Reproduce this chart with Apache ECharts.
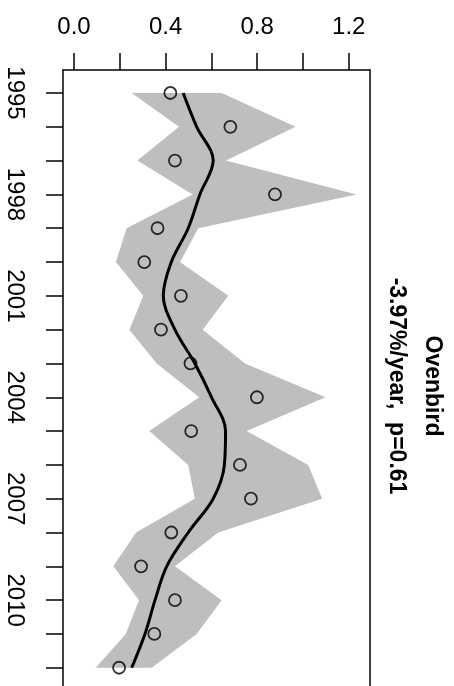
<!DOCTYPE html>
<html>
<head>
<meta charset="utf-8">
<script src="https://cdn.jsdelivr.net/npm/echarts@6/dist/echarts.min.js"></script>
<style>html,body{margin:0;padding:0;background:#fff;}#c{width:454px;height:686px;}</style>
</head>
<body>
<div id="c"></div>
<script>
var years = [1995,1996,1997,1998,1999,2000,2001,2002,2003,2004,2005,2006,2007,2008,2009,2010,2011,2012];
var observed = [0.421,0.683,0.441,0.878,0.365,0.307,0.467,0.380,0.509,0.799,0.512,0.725,0.773,0.425,0.293,0.441,0.351,0.197];
var lower = [0.252,0.459,0.277,0.518,0.230,0.183,0.303,0.242,0.361,0.547,0.329,0.499,0.528,0.271,0.172,0.284,0.226,0.095];
var upper = [0.645,0.968,0.664,1.234,0.543,0.463,0.674,0.562,0.747,1.099,0.754,1.023,1.084,0.630,0.441,0.645,0.536,0.339];
var trend = [0.477,0.536,0.608,0.550,0.499,0.425,0.390,0.441,0.528,0.601,0.662,0.657,0.608,0.499,0.405,0.354,0.310,0.252];
var valueTicks = [0,0.2,0.4,0.6,0.8,1.0,1.2];
var valueLabels = [0,0.4,0.8,1.2];
var yearLabels = [1995,1998,2001,2004,2007,2010];
var titleLine1 = 'Ovenbird';
var titleLine2 = '-3.97%/year,  p=0.61';

var chart = echarts.init(document.getElementById('c'));
var font = 'Liberation Sans, Arial, sans-serif';

var bandData = years.map(function(y,i){ return [lower[i], upper[i], y]; });
var frameLine = {show: true, onZero: false, lineStyle: {color: '#000', width: 1.5}};

chart.setOption({
  animation: false,
  backgroundColor: '#fff',
  grid: {left: 63, top: 70, right: 84, bottom: 0, show: false},
  xAxis: {
    type: 'value', position: 'top', min: -0.048, max: 1.293,
    splitLine: {show: false},
    axisLine: frameLine,
    axisTick: {show: true, inside: false, length: 17, customValues: valueTicks, lineStyle: {color: '#000', width: 1.5}},
    axisLabel: {show: true, customValues: valueLabels, margin: 31, fontSize: 24, color: '#000', fontFamily: font,
      formatter: function(v){ return Number(v).toFixed(1); }}
  },
  yAxis: [
    {
      type: 'value', inverse: true, min: 1994.32, max: 2012.54, position: 'left',
      splitLine: {show: false},
      axisLine: frameLine,
      axisTick: {show: true, inside: false, length: 17, customValues: years, lineStyle: {color: '#000', width: 1.5}},
      axisLabel: {show: true, customValues: yearLabels, rotate: -90, margin: 36, fontSize: 24, color: '#000', fontFamily: font,
        formatter: function(v){ return String(v); }}
    },
    {
      type: 'value', inverse: true, min: 1994.32, max: 2012.54, position: 'right',
      splitLine: {show: false},
      axisLine: frameLine,
      axisTick: {show: false},
      axisLabel: {show: false}
    }
  ],
  series: [
    {
      type: 'custom',
      coordinateSystem: 'cartesian2d',
      data: bandData,
      encode: {x: [0,1], y: 2},
      renderItem: function(params, api){
        if (params.dataIndex !== 0) return null;
        var pts = [];
        for (var i = 0; i < bandData.length; i++) pts.push(api.coord([bandData[i][0], bandData[i][2]]));
        for (var j = bandData.length - 1; j >= 0; j--) pts.push(api.coord([bandData[j][1], bandData[j][2]]));
        return {type: 'polygon', shape: {points: pts}, style: {fill: '#BEBEBE', stroke: null}};
      },
      z: 1
    },
    {
      type: 'line',
      data: years.map(function(y,i){ return [trend[i], y]; }),
      smooth: 0.35,
      symbol: 'none',
      lineStyle: {color: '#000', width: 3},
      z: 3
    },
    {
      type: 'scatter',
      data: years.map(function(y,i){ return [observed[i], y]; }),
      symbol: 'circle',
      symbolSize: 12,
      itemStyle: {color: 'rgba(0,0,0,0)', borderColor: '#000', borderWidth: 1.8},
      z: 4
    }
  ],
  graphic: [
    {type: 'text', x: 432, y: 386, rotation: -Math.PI/2,
     style: {text: titleLine1, font: 'bold 23px ' + font, fill: '#000', textAlign: 'center', textVerticalAlign: 'middle'}},
    {type: 'text', x: 396, y: 386, rotation: -Math.PI/2,
     style: {text: titleLine2, font: 'bold 23px ' + font, fill: '#000', textAlign: 'center', textVerticalAlign: 'middle'}}
  ]
});
</script>
</body>
</html>
